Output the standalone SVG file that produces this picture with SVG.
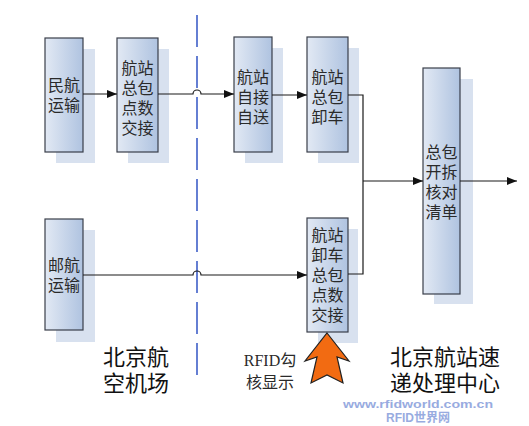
<svg xmlns="http://www.w3.org/2000/svg" width="529" height="426" viewBox="0 0 529 426">
<style>
.box{fill:url(#g);stroke:#3a3f4a;stroke-width:1.2}
.sh{fill:#d8e1ef}
.t{font-family:"Liberation Sans","Noto Sans CJK SC",sans-serif;font-size:16px;fill:#2a2a2a;text-anchor:middle}
.r{font-family:"Liberation Serif","Noto Sans CJK SC",serif;font-size:16px;fill:#2a2a2a;text-anchor:middle}
.big{font-family:"Liberation Sans","Noto Sans CJK SC",sans-serif;font-size:22px;fill:#111;text-anchor:middle}
.c{fill:none;stroke:#1a1a1a;stroke-width:1.2}
.wm{font-family:"Liberation Sans","Noto Sans CJK SC",sans-serif;font-weight:bold;fill:#7f97d9;opacity:0.8;text-anchor:middle}
</style>
<defs>
<linearGradient id="g" x1="0" y1="0" x2="1" y2="0">
<stop offset="0" stop-color="#e2e9f4"/>
<stop offset="1" stop-color="#afc3e0"/>
</linearGradient>
<marker id="a" viewBox="0 0 10 8" refX="10" refY="4" markerWidth="10" markerHeight="8" markerUnits="userSpaceOnUse" orient="auto">
<path d="M0,0 L10,4 L0,8 Z" fill="#111"/>
</marker>
</defs>
<rect width="529" height="426" fill="#ffffff"/>
<line x1="197" y1="15" x2="197" y2="376" stroke="#3f5fc8" stroke-width="1.6" stroke-dasharray="32 9"/>
<g id="n1"><rect class="sh" x="56" y="49" width="39" height="114"/><rect class="box" x="45" y="38" width="38" height="114"/><text class="t" x="64" y="91">民航<tspan x="64" dy="20">运输</tspan></text></g>
<g id="n2"><rect class="sh" x="128" y="49" width="41" height="114"/><rect class="box" x="117" y="38" width="41" height="114"/><text class="t" x="137.5" y="74">航站<tspan x="137.5" dy="20">总包</tspan><tspan x="137.5" dy="20">点数</tspan><tspan x="137.5" dy="20">交接</tspan></text></g>
<g id="n3"><rect class="sh" x="245" y="48" width="38" height="115"/><rect class="box" x="234" y="37" width="38" height="115"/><text class="t" x="253" y="83">航站<tspan x="253" dy="20">自接</tspan><tspan x="253" dy="20">自送</tspan></text></g>
<g id="n4"><rect class="sh" x="318" y="48" width="41" height="115"/><rect class="box" x="307" y="37" width="41" height="115"/><text class="t" x="327.5" y="83">航站<tspan x="327.5" dy="20">总包</tspan><tspan x="327.5" dy="20">卸车</tspan></text></g>
<g id="n5"><rect class="sh" x="434" y="79" width="39" height="225"/><rect class="box" x="423" y="68" width="37" height="226"/><text class="t" x="441.5" y="158">总包<tspan x="441.5" dy="20">开拆</tspan><tspan x="441.5" dy="20">核对</tspan><tspan x="441.5" dy="20">清单</tspan></text></g>
<g id="n6"><rect class="sh" x="56" y="230" width="39" height="112"/><rect class="box" x="45" y="219" width="38" height="111"/><text class="t" x="64" y="271">邮航<tspan x="64" dy="20">运输</tspan></text></g>
<g id="n7"><rect class="sh" x="318" y="229" width="40" height="114"/><rect class="box" x="307" y="218" width="41" height="114"/><text class="t" x="327.5" y="241">航站<tspan x="327.5" dy="20">卸车</tspan><tspan x="327.5" dy="20">总包</tspan><tspan x="327.5" dy="20">点数</tspan><tspan x="327.5" dy="20">交接</tspan></text></g>
<g id="connectors">
<path class="c" d="M83,94 H117" marker-end="url(#a)"/>
<path class="c" d="M158,94 H193 A4,4 0 0 1 201,94 H234" marker-end="url(#a)"/>
<path class="c" d="M272,95 H307" marker-end="url(#a)"/>
<path class="c" d="M348,95 H363 V274 H348"/>
<path class="c" d="M363,181 H423" marker-end="url(#a)"/>
<path class="c" d="M460,181 H517" marker-end="url(#a)"/>
<path class="c" d="M83,275 H193 A4,4 0 0 1 201,275 H307" marker-end="url(#a)"/>
</g>
<g id="rfid-arrow"><path d="M327,333 L349,361 L337,357 L343,383 L327,375 L311,383 L317,357 L305,361 Z" fill="#f26b12" stroke="#222" stroke-width="1.2" stroke-linejoin="miter"/></g>
<g id="labels">
<text class="big" x="136" y="365">北京航<tspan x="136" dy="26">空机场</tspan></text>
<text class="r" x="270" y="366">RFID勾<tspan x="270" dy="22">核显示</tspan></text>
<text class="big" x="445" y="365">北京航站速<tspan x="445" dy="26">递处理中心</tspan></text>
</g>
<g id="watermark">
<text class="wm" x="418" y="408" font-size="11" textLength="150" lengthAdjust="spacingAndGlyphs">www.rfidworld.com.cn</text>
<text class="wm" x="418" y="422" font-size="12">RFID世界网</text>
</g>
</svg>
